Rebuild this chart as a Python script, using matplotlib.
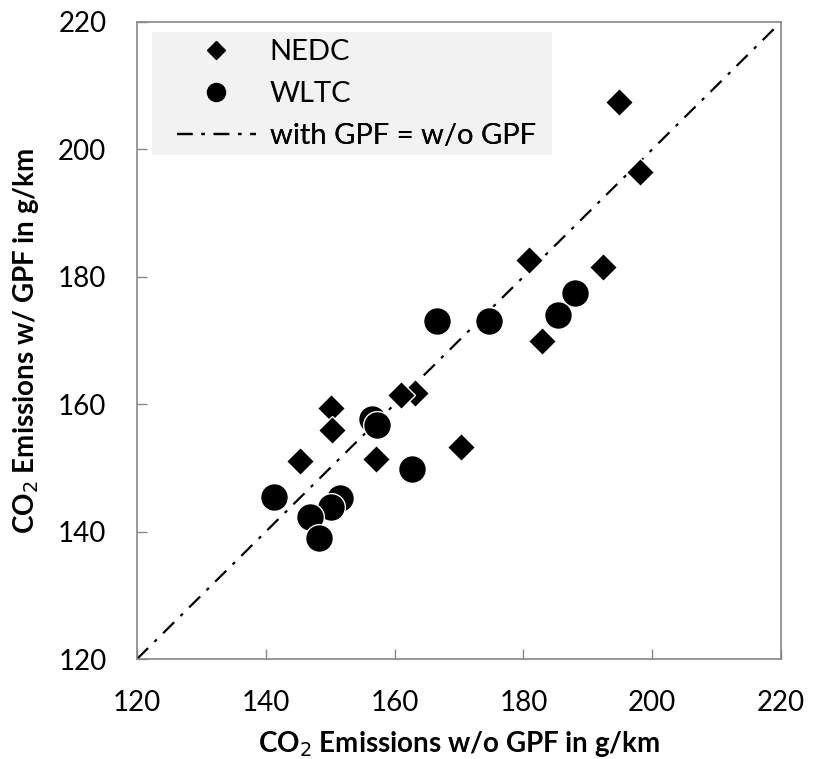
import matplotlib
matplotlib.use("Agg")
import matplotlib.pyplot as plt
from matplotlib.lines import Line2D
from matplotlib.patches import Rectangle

plt.rcParams['font.family'] = ['Lato', 'DejaVu Sans']

nedc_x = [194.9, 198.1, 180.9, 192.4, 182.9, 163.2, 161.0, 150.1, 150.3, 145.3, 157.1, 170.3]
nedc_y = [207.5, 196.5, 182.7, 181.5, 169.9, 161.8, 161.4, 159.4, 156.0, 151.1, 151.4, 153.3]

wltc_x = [166.6, 174.7, 188.0, 185.4, 156.5, 157.3, 162.7, 141.3, 151.5, 150.1, 146.9, 148.3]
wltc_y = [173.1, 173.1, 177.4, 174.0, 157.7, 156.7, 149.9, 145.4, 145.2, 143.9, 142.3, 139.0]

line_vals = [120, 220]
ticks = [120, 140, 160, 180, 200, 220]
legend_labels = ['NEDC', 'WLTC', 'with GPF = w/o GPF']

fig = plt.figure(figsize=(8.23, 7.59), dpi=100)
ax = fig.add_axes([137/823, 1-659/759, (781-137)/823, (659-22)/759])

dashdot = (0, (7, 4, 1.5, 4))
ax.plot(nedc_x, nedc_y, linestyle='none', marker='D', markersize=14.5, color='black',
        markeredgecolor='white', markeredgewidth=1.0, zorder=3)
ax.plot(wltc_x, wltc_y, linestyle='none', marker='o', markersize=20, color='black',
        markeredgecolor='white', markeredgewidth=1.0, zorder=3)
ax.plot(line_vals, line_vals, color='black', linestyle=dashdot, linewidth=1.6, zorder=2)

ax.set_xlim(120, 220)
ax.set_ylim(120, 220)
ax.set_xticks(ticks)
ax.set_yticks(ticks)
ax.tick_params(direction='in', length=7, width=1, color='#888888', labelsize=20, pad=22)
for s in ax.spines.values():
    s.set_color('#888888')
    s.set_linewidth(1.2)

ax.set_xlabel('CO$_2$ Emissions w/o GPF in g/km', fontsize=20, fontweight='bold', labelpad=10)
ax.set_ylabel('CO$_2$ Emissions w/ GPF in g/km', fontsize=20, fontweight='bold', labelpad=12)

# legend background
ax.add_patch(Rectangle((0.0233, 0.7912), 0.6211, 0.1931, transform=ax.transAxes,
                       facecolor='#f2f2f2', edgecolor='none', zorder=4))

handles = [
    Line2D([], [], linestyle='none', marker='D', markersize=9, color='black'),
    Line2D([], [], linestyle='none', marker='o', markersize=13, color='black'),
    Line2D([], [], color='black', linestyle=dashdot, linewidth=1.6),
]
row_y = [0.9529, 0.887, 0.821]
for h, lab, yy in zip(handles, legend_labels, row_y):
    lg = ax.legend([h], [lab], loc='center left', bbox_to_anchor=(0.062, yy),
                   fontsize=21, frameon=False, handlelength=2.7, borderpad=0,
                   handletextpad=0.48, borderaxespad=0)
    lg.set_zorder(5)
    ax.add_artist(lg)

fig.savefig('out.png', dpi=100)
